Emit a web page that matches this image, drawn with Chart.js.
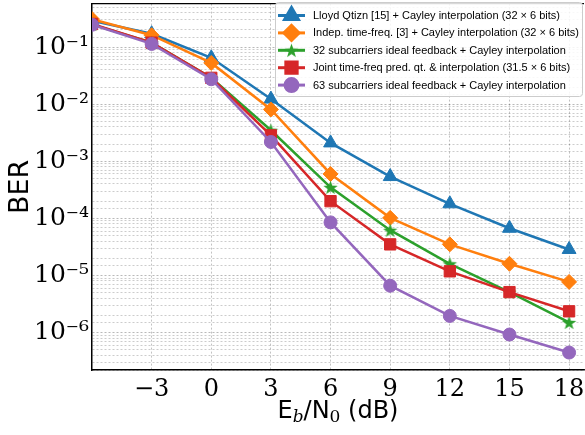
<!DOCTYPE html>
<html>
<head>
<meta charset="utf-8">
<script src="https://cdn.jsdelivr.net/npm/chart.js@4.4.0/dist/chart.umd.min.js"></script>
<style>
html, body { margin: 0; padding: 0; background: #fff; }
#caja { width: 585px; height: 435px; }
</style>
</head>
<body>
<div id="caja"><canvas id="grafica"></canvas></div>
<script>
// datos (BER vs Eb/N0)
const snr = [-6, -3, 0, 3, 6, 9, 12, 15, 18]
const xTicks = [-3, 0, 3, 6, 9, 12, 15, 18]
const lloyd = [0.29, 0.172, 0.065, 0.0123, 2.1e-3, 5.4e-4, 1.8e-4, 6.7e-5, 2.85e-5]
const indep = [0.31, 0.162, 0.053, 8.1e-3, 6.0e-4, 1.02e-4, 3.5e-5, 1.6e-5, 7.7e-6]
const ideal32 = [0.25, 0.12, 0.029, 3.5e-3, 3.5e-4, 6.2e-5, 1.6e-5, 5.1e-6, 1.5e-6]
const joint = [0.255, 0.12, 0.029, 2.85e-3, 2.0e-4, 3.5e-5, 1.18e-5, 5.1e-6, 2.35e-6]
const ideal63 = [0.247, 0.114, 0.0274, 2.18e-3, 8.5e-5, 6.6e-6, 1.95e-6, 9.2e-7, 4.45e-7]
const nombres = [
  'Lloyd Qtizn [15] + Cayley interpolation (32 × 6 bits)',
  'Indep. time-freq. [3] + Cayley interpolation (32 × 6 bits)',
  '32 subcarriers ideal feedback + Cayley interpolation',
  'Joint time-freq pred. qt. & interpolation (31.5 × 6 bits)',
  '63 subcarriers ideal feedback + Cayley interpolation'
]
const colores = ['#1f77b4', '#ff7f0e', '#2ca02c', '#d62728', '#9467bd']

function hacerEstrella(r, color) {
  const c = document.createElement('canvas')
  c.width = c.height = Math.ceil(r * 2 + 2)
  const g = c.getContext('2d')
  const cx = c.width / 2, cy = c.height / 2 + r * 0.1
  g.beginPath()
  for (let i = 0; i < 10; i++) {
    const rr = i % 2 === 0 ? r : r * 0.4
    const ang = -Math.PI / 2 + i * Math.PI / 5
    g.lineTo(cx + rr * Math.cos(ang), cy + rr * Math.sin(ang))
  }
  g.closePath()
  g.fillStyle = color
  g.fill()
  return c
}
const estrella = hacerEstrella(7.5, colores[2])

const marcas = ['triangle', 'rectRot', estrella, 'rect', 'circle']
const radios = [8, 7.5, 7.5, 8, 6.5]
const series = [lloyd, indep, ideal32, joint, ideal63]

const sup = { '-': '⁻', '0': '⁰', '1': '¹', '2': '²', '3': '³', '4': '⁴', '5': '⁵', '6': '⁶', '7': '⁷', '8': '⁸', '9': '⁹' }
function esMayor(v) {
  const l = Math.log10(v)
  return Math.abs(l - Math.round(l)) < 1e-9
}

const textos = {
  id: 'textos',
  afterDraw(chart) {
    const ctx = chart.ctx
    const a = chart.chartArea
    ctx.save()
    ctx.strokeStyle = '#000'
    ctx.lineWidth = 1.2
    ctx.beginPath()
    ctx.moveTo(a.left, a.top)
    ctx.lineTo(a.right, a.top)
    ctx.stroke()

    // BER
    ctx.save()
    ctx.fillStyle = '#000'
    ctx.translate(21, (a.top + a.bottom) / 2)
    ctx.rotate(-Math.PI / 2)
    ctx.font = '27px "DejaVu Sans"'
    ctx.textAlign = 'center'
    ctx.textBaseline = 'middle'
    ctx.fillText('BER', 0, 0)
    ctx.restore()

    // Eb/N0 (dB)
    const piezas = [
      ['E', '24px "DejaVu Sans"', 0],
      ['b', 'italic 17px "DejaVu Serif"', 4],
      ['/N', '24px "DejaVu Sans"', 0],
      ['0', '17px "DejaVu Serif"', 4],
      [' (dB)', '24px "DejaVu Sans"', 0]
    ]
    let total = 0
    piezas.forEach(p => { ctx.font = p[1]; total += ctx.measureText(p[0]).width })
    let x = (a.left + a.right) / 2 - total / 2
    ctx.fillStyle = '#000'
    ctx.textBaseline = 'alphabetic'
    ctx.textAlign = 'left'
    piezas.forEach(p => {
      ctx.font = p[1]
      ctx.fillText(p[0], x, 418 + p[2])
      x += ctx.measureText(p[0]).width
    })

    // leyenda
    const lx = 275, ly = 2, lw = 307, lh = 94
    ctx.fillStyle = 'rgba(255,255,255,0.85)'
    ctx.strokeStyle = '#cccccc'
    ctx.lineWidth = 1
    ctx.beginPath()
    ctx.roundRect(lx + 0.5, ly + 0.5, lw, lh, 3)
    ctx.fill()
    ctx.stroke()
    for (let i = 0; i < 5; i++) {
      const y = 15.5 + i * 17.4
      ctx.strokeStyle = colores[i]
      ctx.lineWidth = 3
      ctx.beginPath()
      ctx.moveTo(278, y)
      ctx.lineTo(305, y)
      ctx.stroke()
      ctx.fillStyle = colores[i]
      Chart.helpers.drawPoint(ctx, { pointStyle: marcas[i], radius: radios[i], rotation: 0, borderWidth: 1 }, 291.5, y)
      ctx.fillStyle = '#000'
      ctx.font = '11px "Liberation Sans"'
      ctx.textBaseline = 'middle'
      ctx.fillText(nombres[i], 313, y + 0.5)
    }
    ctx.restore()
  }
}

const ctx = document.getElementById('grafica').getContext('2d')
window.grafica = new Chart(ctx, {
  type: 'line',
  data: {
    labels: snr,
    datasets: series.map((s, i) => ({
      label: nombres[i],
      data: snr.map((x, j) => ({ x: x, y: s[j] })),
      borderColor: colores[i],
      backgroundColor: colores[i],
      pointBackgroundColor: colores[i],
      pointBorderColor: colores[i],
      pointBorderWidth: 1,
      pointStyle: marcas[i],
      pointRadius: radios[i],
      borderWidth: 2.5,
      tension: 0,
      order: 5 - i,
      clip: 0
    }))
  },
  options: {
    responsive: true,
    maintainAspectRatio: false,
    animation: false,
    layout: { autoPadding: false, padding: { top: 1, right: 1, left: 0, bottom: 0 } },
    plugins: { legend: { display: false }, tooltip: { enabled: false } },
    scales: {
      x: {
        type: 'linear',
        min: -6,
        max: 18.75,
        afterBuildTicks: s => { s.ticks = xTicks.map(v => ({ value: v })) },
        afterFit: s => { s.height = 65; s.paddingLeft = 0; s.paddingRight = 0 },
        border: { color: '#000', width: 1.5, dash: [2, 2] },
        grid: { color: 'rgba(0,0,0,0.3)', lineWidth: 0.8, drawTicks: false },
        ticks: {
          padding: 5,
          color: '#000',
          font: { family: '"DejaVu Serif"', size: 24 },
          callback: v => String(v).replace('-', '−')
        }
      },
      y: {
        type: 'logarithmic',
        min: 2.2e-7,
        max: 0.58,
        afterFit: s => { s.width = 92 },
        border: { color: '#000', width: 1.5, dash: [2, 2] },
        grid: {
          color: c => esMayor(c.tick.value) ? 'rgba(0,0,0,0.35)' : 'rgba(0,0,0,0.25)',
          lineWidth: 0.8,
          drawTicks: false
        },
        ticks: {
          autoSkip: false,
          padding: 3,
          color: '#000',
          font: c => ({ family: '"DejaVu Serif"', size: esMayor(c.tick.value) ? 25 : 1 }),
          callback: v => {
            if (!esMayor(v)) return ''
            const e = Math.round(Math.log10(v))
            return '10' + String(e).split('').map(ch => sup[ch]).join('')
          }
        }
      }
    }
  },
  plugins: [textos]
})
</script>
</body>
</html>
